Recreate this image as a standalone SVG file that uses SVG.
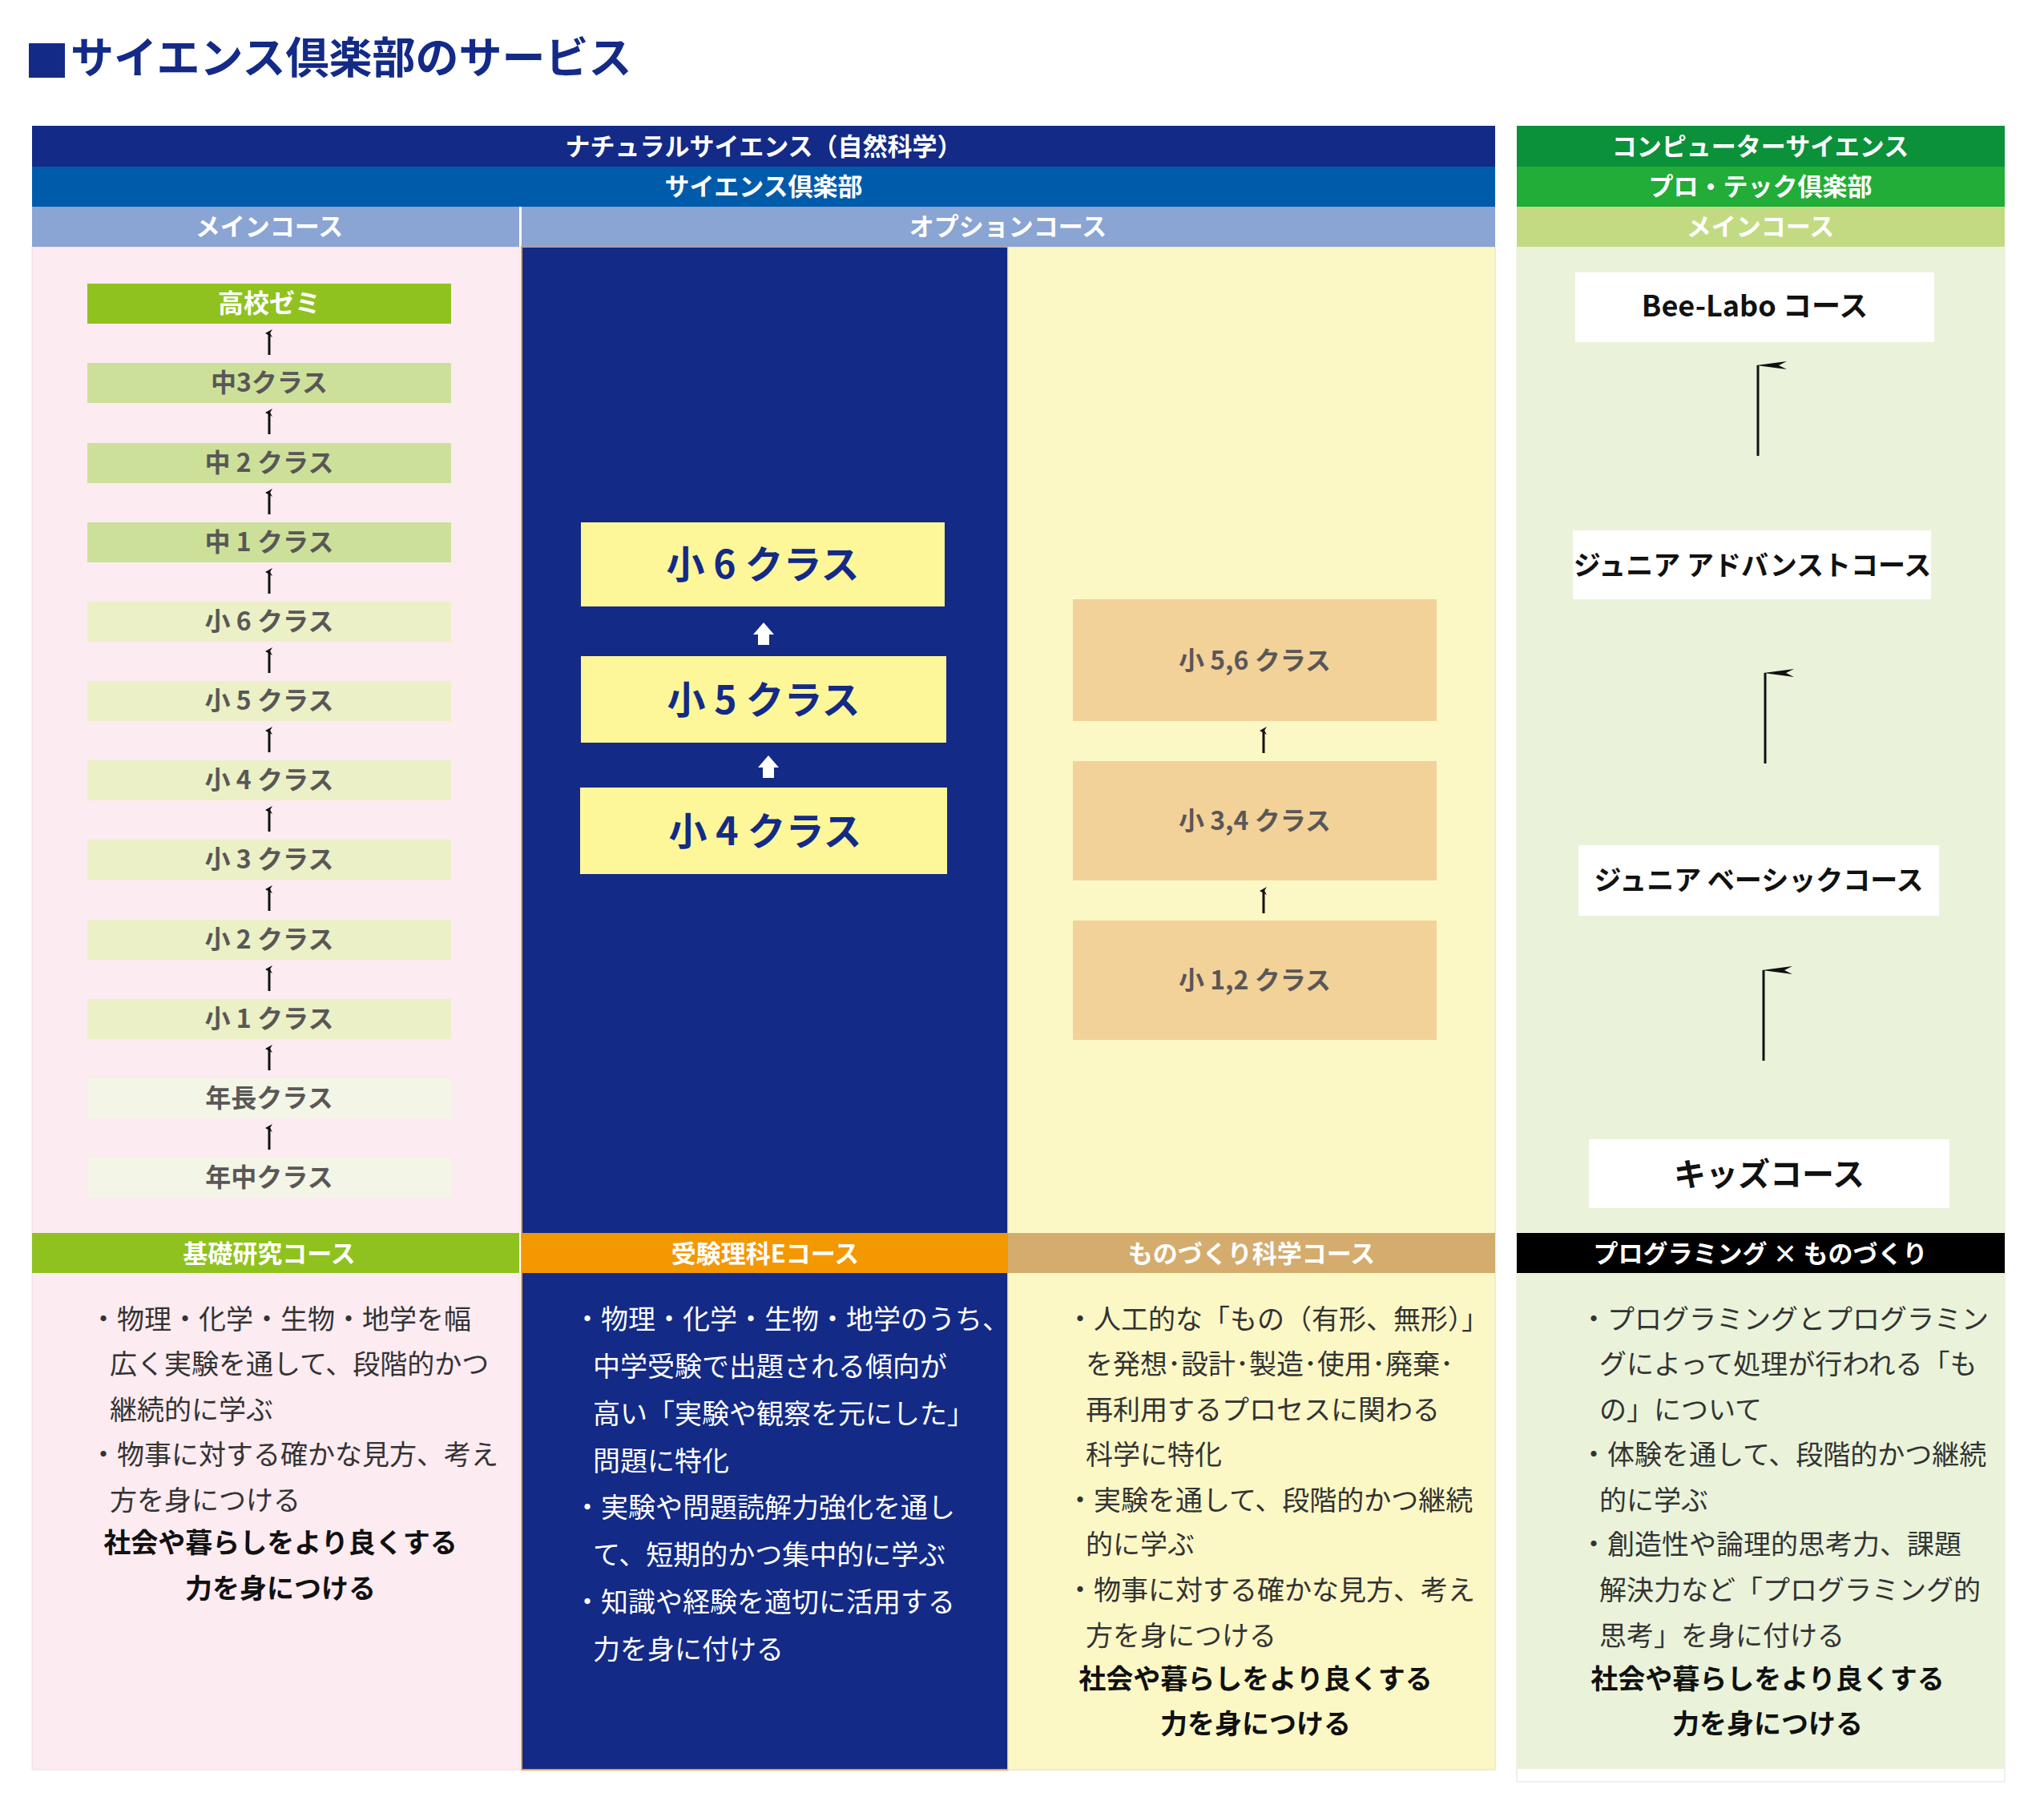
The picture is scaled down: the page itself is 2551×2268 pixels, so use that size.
<svg xmlns="http://www.w3.org/2000/svg" width="2551" height="2268" viewBox="0 0 2551 2268">
<style>
text{font-family:"Noto Sans CJK JP","Noto Sans",sans-serif}
.hd{fill:#fff;font-size:31px;font-weight:bold;text-anchor:middle}
.it{fill:#595757;font-size:32px;font-weight:bold;text-anchor:middle}
.nv{fill:#132a87;font-size:48px;font-weight:bold;text-anchor:middle}
.bx{fill:#111;font-size:36px;font-weight:bold;text-anchor:middle}
.bd{font-size:34px}
.bb{font-size:34px;font-weight:bold;text-anchor:middle;fill:#111}
.sm{stroke:#111;stroke-width:3;fill:none}
.th{stroke:#111;stroke-width:3;fill:none}
</style>
<defs>
<marker id="ah" markerWidth="10" markerHeight="10" refX="5" refY="5" orient="auto" markerUnits="userSpaceOnUse" viewBox="0 0 10 10"><path d="M0,9 L5,0 L10,9 L5,6 Z" fill="#111"/></marker>
<marker id="ah2" markerWidth="14" markerHeight="40" refX="7" refY="2" orient="auto-start-reverse" markerUnits="userSpaceOnUse" viewBox="0 0 14 40"><path d="M7,0 L12,38 L7,28 L2,38 Z" fill="#111"/></marker>
</defs>
<rect width="2551" height="2268" fill="#fff"/>
<g id="title"><rect x="36" y="54" width="45" height="43" fill="#132a87"/><text x="88" y="92" font-size="54" font-weight="bold" fill="#132a87">サイエンス倶楽部のサービス</text></g>

<g id="backgrounds">
<rect x="40" y="308" width="608" height="1901" fill="#fcebf1" stroke="#e6dde2" stroke-width="1"/>
<rect x="651" y="308" width="607" height="1901" fill="#132a87" stroke="#f0a040" stroke-width="2"/>
<rect x="1258" y="308" width="608" height="1901" fill="#fcf8c6" stroke="#e8dcb0" stroke-width="1"/>
<rect x="1893" y="308" width="609" height="1916" fill="#fff" stroke="#dfe5d8" stroke-width="1"/>
<rect x="1893" y="308" width="609" height="1900" fill="#eaf3da"/>
</g>

<g id="headers">
<rect x="40" y="157" width="1826" height="51" fill="#132a87"/><text class="hd" x="953" y="194">ナチュラルサイエンス（自然科学）</text>
<rect x="40" y="208" width="1826" height="50" fill="#005bab"/><text class="hd" x="953" y="244">サイエンス倶楽部</text>
<rect x="40" y="258" width="608" height="50" fill="#8aa4d4"/><text class="hd" x="336" y="294">メインコース</text>
<rect x="651" y="258" width="1215" height="50" fill="#8aa4d4"/><text class="hd" x="1258" y="294">オプションコース</text>
<rect x="1893" y="157" width="609" height="51" fill="#0a9139"/><text class="hd" x="2197" y="194">コンピューターサイエンス</text>
<rect x="1893" y="208" width="609" height="50" fill="#22ac38"/><text class="hd" x="2197" y="244">プロ・テック倶楽部</text>
<rect x="1893" y="258" width="609" height="50" fill="#c2db83"/><text class="hd" x="2197" y="294">メインコース</text>
</g>

<g id="left-items">
<g id="n-koukou"><rect x="109" y="354" width="454" height="50" fill="#8fc21f"/><text class="it" x="336" y="390" fill="#fff" style="fill:#fff">高校ゼミ</text></g>
<g id="n-c3"><rect x="109" y="453" width="454" height="50" fill="#cde09a"/><text class="it" x="336" y="489">中3クラス</text></g>
<g id="n-c2"><rect x="109" y="553" width="454" height="50" fill="#cde09a"/><text class="it" x="336" y="589">中 2 クラス</text></g>
<g id="n-c1"><rect x="109" y="652" width="454" height="50" fill="#cde09a"/><text class="it" x="336" y="688">中 1 クラス</text></g>
<g id="n-s6"><rect x="109" y="751" width="454" height="50" fill="#ebf0c6"/><text class="it" x="336" y="787">小 6 クラス</text></g>
<g id="n-s5"><rect x="109" y="850" width="454" height="50" fill="#ebf0c6"/><text class="it" x="336" y="886">小 5 クラス</text></g>
<g id="n-s4"><rect x="109" y="949" width="454" height="50" fill="#ebf0c6"/><text class="it" x="336" y="985">小 4 クラス</text></g>
<g id="n-s3"><rect x="109" y="1048" width="454" height="50" fill="#ebf0c6"/><text class="it" x="336" y="1084">小 3 クラス</text></g>
<g id="n-s2"><rect x="109" y="1148" width="454" height="50" fill="#ebf0c6"/><text class="it" x="336" y="1184">小 2 クラス</text></g>
<g id="n-s1"><rect x="109" y="1247" width="454" height="50" fill="#ebf0c6"/><text class="it" x="336" y="1283">小 1 クラス</text></g>
<g id="n-nc"><rect x="109" y="1346" width="454" height="50" fill="#f3f6e6"/><text class="it" x="336" y="1382">年長クラス</text></g>
<g id="n-nm"><rect x="109" y="1445" width="454" height="50" fill="#f3f6e6"/><text class="it" x="336" y="1481">年中クラス</text></g>
</g>

<g id="navy-items">
<g id="n-e6"><rect x="725" y="652" width="454" height="105" fill="#fef799"/><text class="nv" x="952" y="722">小 6 クラス</text></g>
<g id="n-e5"><rect x="725" y="819" width="456" height="108" fill="#fef799"/><text class="nv" x="953" y="891">小 5 クラス</text></g>
<g id="n-e4"><rect x="724" y="983" width="458" height="108" fill="#fef799"/><text class="nv" x="955" y="1055">小 4 クラス</text></g>
</g>

<g id="yellow-items">
<g id="n-m56"><rect x="1339" y="748" width="454" height="152" fill="#f2d299"/><text class="it" x="1566" y="836">小 5,6 クラス</text></g>
<g id="n-m34"><rect x="1339" y="950" width="454" height="149" fill="#f2d299"/><text class="it" x="1566" y="1036">小 3,4 クラス</text></g>
<g id="n-m12"><rect x="1339" y="1149" width="454" height="149" fill="#f2d299"/><text class="it" x="1566" y="1235">小 1,2 クラス</text></g>
</g>

<g id="right-items">
<g id="n-bee"><rect x="1966" y="340" width="448" height="87" fill="#fff"/><text class="bx" x="2190" y="395">Bee-Labo コース</text></g>
<g id="n-jadv"><rect x="1963" y="662" width="447" height="86" fill="#fff"/><text class="bx" x="2187" y="718" style="font-size:34px">ジュニア アドバンストコース</text></g>
<g id="n-jbas"><rect x="1970" y="1055" width="450" height="88" fill="#fff"/><text class="bx" x="2195" y="1111" style="font-size:34px">ジュニア ベーシックコース</text></g>
<g id="n-kids"><rect x="1983" y="1422" width="450" height="86" fill="#fff"/><text class="bx" x="2208" y="1480" style="font-size:40px">キッズコース</text></g>
</g>

<g id="connectors">
<g marker-end="url(#ah)" class="sm">
<line x1="336" y1="443" x2="336" y2="416"/><line x1="336" y1="542" x2="336" y2="515"/><line x1="336" y1="642" x2="336" y2="615"/><line x1="336" y1="741" x2="336" y2="714"/><line x1="336" y1="840" x2="336" y2="813"/><line x1="336" y1="939" x2="336" y2="912"/><line x1="336" y1="1038" x2="336" y2="1011"/><line x1="336" y1="1137" x2="336" y2="1110"/><line x1="336" y1="1237" x2="336" y2="1210"/><line x1="336" y1="1336" x2="336" y2="1309"/><line x1="336" y1="1435" x2="336" y2="1408"/>
<line x1="1577" y1="940" x2="1577" y2="912"/><line x1="1577" y1="1140" x2="1577" y2="1112"/>
</g>
<polygon points="953,777 966,792 960,792 960,805 946,805 946,792 940,792" fill="#fff"/>
<polygon points="959,943 972,958 966,958 966,971 952,971 952,958 946,958" fill="#fff"/>
<g class="th" marker-end="url(#ah2)">
<line x1="2194" y1="569" x2="2194" y2="456"/><line x1="2203" y1="953" x2="2203" y2="840"/><line x1="2201" y1="1324" x2="2201" y2="1211"/>
</g>
</g>

<g id="course-bands">
<rect x="40" y="1539" width="608" height="50" fill="#8fc21f"/><text class="hd" x="336" y="1576">基礎研究コース</text>
<rect x="651" y="1539" width="607" height="50" fill="#f39800"/><text class="hd" x="955" y="1576">受験理科Eコース</text>
<rect x="1258" y="1539" width="608" height="50" fill="#d4ac6e"/><text class="hd" x="1562" y="1576">ものづくり科学コース</text>
<rect x="1893" y="1539" width="609" height="50" fill="#000"/><text class="hd" x="2197" y="1576">プログラミング × ものづくり</text>
</g>

<g id="desc-kiso" class="bd" fill="#333">
<text x="112" y="1659">・物理・化学・生物・地学を幅</text>
<text x="137" y="1715">広く実験を通して、段階的かつ</text>
<text x="137" y="1772">継続的に学ぶ</text>
<text x="112" y="1828">・物事に対する確かな見方、考え</text>
<text x="137" y="1885">方を身につける</text>
<text class="bb" x="350" y="1938">社会や暮らしをより良くする</text>
<text class="bb" x="350" y="1995">力を身につける</text>
</g>
<g id="desc-juken" class="bd" fill="#fff">
<text x="716" y="1659">・物理・化学・生物・地学のうち、</text>
<text x="740" y="1718">中学受験で出題される傾向が</text>
<text x="740" y="1777">高い「実験や観察を元にした」</text>
<text x="740" y="1836">問題に特化</text>
<text x="716" y="1894">・実験や問題読解力強化を通し</text>
<text x="740" y="1953">て、短期的かつ集中的に学ぶ</text>
<text x="716" y="2012">・知識や経験を適切に活用する</text>
<text x="740" y="2071">力を身に付ける</text>
</g>
<g id="desc-mono" class="bd" fill="#333">
<text x="1331" y="1659">・人工的な「もの（有形、無形）」</text>
<text x="1355" y="1715">を発想･設計･製造･使用･廃棄･</text>
<text x="1355" y="1772">再利用するプロセスに関わる</text>
<text x="1355" y="1828">科学に特化</text>
<text x="1331" y="1885">・実験を通して、段階的かつ継続</text>
<text x="1355" y="1940">的に学ぶ</text>
<text x="1331" y="1997">・物事に対する確かな見方、考え</text>
<text x="1355" y="2054">方を身につける</text>
<text class="bb" x="1567" y="2108">社会や暮らしをより良くする</text>
<text class="bb" x="1567" y="2164">力を身につける</text>
</g>
<g id="desc-prog" class="bd" fill="#333">
<text x="1972" y="1659">・プログラミングとプログラミン</text>
<text x="1996" y="1715">グによって処理が行われる「も</text>
<text x="1996" y="1772">の」について</text>
<text x="1972" y="1828">・体験を通して、段階的かつ継続</text>
<text x="1996" y="1885">的に学ぶ</text>
<text x="1972" y="1940">・創造性や論理的思考力、課題</text>
<text x="1996" y="1997">解決力など「プログラミング的</text>
<text x="1996" y="2054">思考」を身に付ける</text>
<text class="bb" x="2206" y="2108">社会や暮らしをより良くする</text>
<text class="bb" x="2206" y="2164">力を身につける</text>
</g>
</svg>
